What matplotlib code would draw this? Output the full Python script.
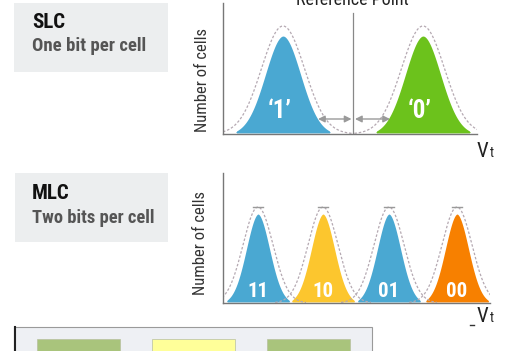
import numpy as np
import matplotlib.pyplot as plt
from matplotlib.patches import Rectangle
from matplotlib import font_manager

# pick a narrow face if one is installed
names = {f.name for f in font_manager.fontManager.ttflist}
narrow = [n for n in ['Roboto Condensed', 'Open Sans Condensed', 'DejaVu Sans Condensed',
                      'Liberation Sans Narrow'] if n in names]
plt.rcParams['font.family'] = narrow + ['Liberation Sans', 'DejaVu Sans']

# SLC: one distribution per state, split by a reference point
slc_centers = [60, 200]
slc_labels = ['\u20181\u2019', '\u20180\u2019']
slc_colors = ['#4aa8d2', '#6cc21c']
slc_ref = 130

# MLC: four states
mlc_centers = [35, 100, 166, 234]
mlc_labels = ['11', '10', '01', '00']
mlc_colors = ['#4aa8d2', '#fcc62e', '#4aa8d2', '#f78000']

W, H = 519, 351
fig = plt.figure(figsize=(W / 100, H / 100), dpi=100)

# background layer in pixel units
bg = fig.add_axes([0, 0, 1, 1])
bg.set_xlim(0, W)
bg.set_ylim(H, 0)
bg.axis('off')

bg.add_patch(Rectangle((14, 3), 154, 69, color='#eceeef', lw=0))
bg.text(32, 28, 'SLC', fontsize=15, fontweight='bold', color='#111111', va='baseline')
bg.text(32, 51, 'One bit per cell', fontsize=13.5, fontweight='bold', color='#555555', va='baseline')

bg.add_patch(Rectangle((15, 173), 153, 69, color='#eceeef', lw=0))
bg.text(32, 199, 'MLC', fontsize=15, fontweight='bold', color='#111111', va='baseline')
bg.text(32, 223, 'Two bits per cell', fontsize=13.3, fontweight='bold', color='#555555', va='baseline')

# cell array box at the bottom
bg.add_patch(Rectangle((14, 327), 358, 40, facecolor='#eef0f4', edgecolor='#9a9a9a', lw=0.8))
bg.plot([14.5, 14.5], [327, 351], color='#222222', lw=1.5)
for x0, c in zip([37, 152, 267], ['#a9c47c', '#ffff99', '#a9c47c']):
    bg.add_patch(Rectangle((x0, 339), 83, 20, facecolor=c, edgecolor='#b8c0a0', lw=0.5))

bg.text(352, 5, 'Reference Point', fontsize=13, color='#222222', ha='center', va='baseline')

for y in [157, 322]:
    bg.text(477, y, 'V', fontsize=15, color='#222222', va='baseline')
    bg.text(489.5, y, 't', fontsize=10, color='#222222', va='baseline')
bg.plot([470, 474], [325, 325], color='#333333', lw=1)


def bells(ax, centers, labels, colors, peak, sig, opeak, osig, fs, ly, cap=False):
    x = np.linspace(-60, 320, 1200)
    for c, lab, col in zip(centers, labels, colors):
        y = peak * np.exp(-0.5 * ((x - c) / sig) ** 2)
        oy = opeak * np.exp(-0.5 * ((x - c) / osig) ** 2)
        m = np.abs(x - c) < 3.2 * osig
        ax.plot(x[m], oy[m], color='#b5a9b2', lw=0.9, ls=(0, (2, 1.5)))
        if cap:
            ax.plot([c - 5, c + 5], [opeak + 0.5, opeak + 0.5], color='#9a9a9a', lw=1)
        ax.fill_between(x, 0, y, where=np.abs(x - c) < 2.6 * sig, color=col,
                        edgecolor='white', lw=1.5)
        ax.text(c - 3 if lab.startswith('\u2018') else c, ly, lab, fontsize=fs,
                fontweight='bold', color='white', ha='center', va='baseline')


def style(ax, label_x, label_y):
    for s in ['top', 'right']:
        ax.spines[s].set_visible(False)
    for s in ['left', 'bottom']:
        ax.spines[s].set_color('#777777')
        ax.spines[s].set_linewidth(1)
    ax.set_xticks([])
    ax.set_yticks([])
    ax.patch.set_alpha(0)
    ax.set_ylabel('Number of cells', fontsize=12, color='#333333')
    ax.yaxis.set_label_coords(label_x, label_y)


# SLC plot
ax1 = fig.add_axes([223 / W, 1 - 134 / H, 254 / W, 131 / H])
ax1.set_xlim(0, 254)
ax1.set_ylim(0, 131)
style(ax1, -0.05, 0.41)
bells(ax1, slc_centers, slc_labels, slc_colors, 99, 18.5, 108, 21.5, 18, 16)
ax1.plot([slc_ref, slc_ref], [0, 121], color='#888888', lw=0.9)
ax1.annotate('', xy=(95, 15), xytext=(slc_ref - 1.5, 15),
             arrowprops=dict(arrowstyle='<|-|>', color='#9a9a9a', lw=1, mutation_scale=10,
                             shrinkA=0, shrinkB=0))
ax1.annotate('', xy=(slc_ref + 2, 15), xytext=(167, 15),
             arrowprops=dict(arrowstyle='<|-|>', color='#9a9a9a', lw=1, mutation_scale=10,
                             shrinkA=0, shrinkB=0))

# MLC plot
ax2 = fig.add_axes([223 / W, 1 - 303 / H, 267 / W, 130 / H])
ax2.set_xlim(0, 267)
ax2.set_ylim(0, 130)
style(ax2, -0.056, 0.46)
bells(ax2, mlc_centers, mlc_labels, mlc_colors, 90, 12.5, 96, 15, 15, 6, cap=True)

fig.savefig('out.png', dpi=100)
